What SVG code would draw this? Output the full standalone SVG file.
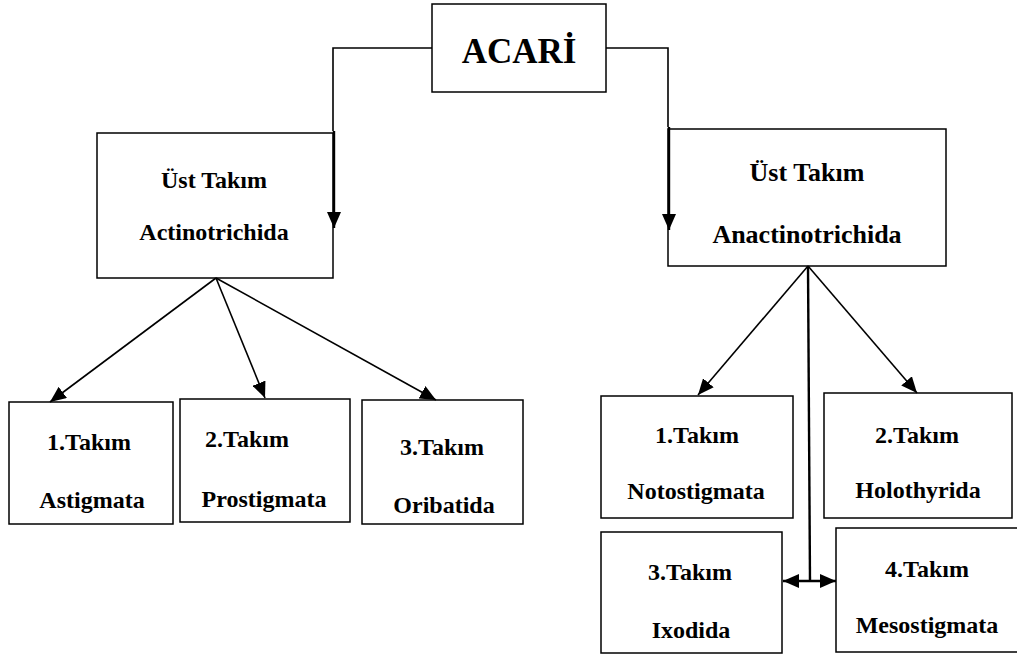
<svg xmlns="http://www.w3.org/2000/svg" width="1017" height="657" viewBox="0 0 1017 657">
<style>
.box{fill:#fff;stroke:#000;stroke-width:1.5}
.t{font-family:"Liberation Serif","Times New Roman",serif;font-weight:bold;font-size:24px;fill:#000;text-anchor:middle}
.ln{fill:none;stroke:#000;stroke-width:1.6}
.thick{fill:none;stroke:#000;stroke-width:2.4}
</style>
<defs>
<marker id="ah" markerUnits="userSpaceOnUse" markerWidth="16" markerHeight="14" refX="16" refY="7" orient="auto-start-reverse">
<path d="M0,0 L16,7 L0,14 z" fill="#000"/>
</marker>
</defs>
<rect width="1017" height="657" fill="#fff"/>
<g id="acari">
<rect class="box" x="432" y="4" width="174" height="88"/>
<text class="t" x="519" y="63" style="font-size:35px">ACARİ</text>
</g>
<g id="actinotrichida">
<rect class="box" x="97" y="133" width="236" height="145"/>
<text class="t" x="214" y="188">Üst Takım</text>
<text class="t" x="214" y="240">Actinotrichida</text>
</g>
<g id="anactinotrichida">
<rect class="box" x="668" y="129" width="278" height="137"/>
<text class="t" x="807" y="181" style="font-size:26px">Üst Takım</text>
<text class="t" x="807" y="243" style="font-size:26px">Anactinotrichida</text>
</g>
<g id="astigmata">
<rect class="box" x="9" y="402" width="164" height="122"/>
<text class="t" x="89" y="450">1.Takım</text>
<text class="t" x="92" y="508">Astigmata</text>
</g>
<g id="prostigmata">
<rect class="box" x="180" y="399" width="170" height="123"/>
<text class="t" x="247" y="447">2.Takım</text>
<text class="t" x="264" y="507">Prostigmata</text>
</g>
<g id="oribatida">
<rect class="box" x="362" y="400" width="161" height="124"/>
<text class="t" x="442" y="455">3.Takım</text>
<text class="t" x="444" y="513">Oribatida</text>
</g>
<g id="notostigmata">
<rect class="box" x="601" y="396" width="192" height="122"/>
<text class="t" x="697" y="443">1.Takım</text>
<text class="t" x="696" y="499">Notostigmata</text>
</g>
<g id="holothyrida">
<rect class="box" x="824" y="393" width="188" height="125"/>
<text class="t" x="917" y="443">2.Takım</text>
<text class="t" x="918" y="498">Holothyrida</text>
</g>
<g id="ixodida">
<rect class="box" x="601" y="532" width="181" height="121"/>
<text class="t" x="690" y="580">3.Takım</text>
<text class="t" x="691" y="638">Ixodida</text>
</g>
<g id="mesostigmata">
<rect class="box" x="836" y="528" width="190" height="124"/>
<text class="t" x="927" y="577">4.Takım</text>
<text class="t" x="927" y="633">Mesostigmata</text>
</g>
<g id="connectors">
<polyline class="ln" points="432,48 333,48 333,131"/>
<line class="thick" x1="334" y1="131" x2="334" y2="228" marker-end="url(#ah)"/>
<polyline class="ln" points="606,48 668,48 668,127"/>
<line class="thick" x1="669" y1="127" x2="669" y2="230" marker-end="url(#ah)"/>
<line class="ln" x1="216" y1="278" x2="50" y2="402" marker-end="url(#ah)"/>
<line class="ln" x1="216" y1="278" x2="265" y2="398" marker-end="url(#ah)"/>
<line class="ln" x1="216" y1="278" x2="436" y2="400" marker-end="url(#ah)"/>
<line class="ln" x1="808" y1="266" x2="698" y2="395" marker-end="url(#ah)"/>
<line class="ln" x1="808" y1="266" x2="917" y2="393" marker-end="url(#ah)"/>
<line class="thick" x1="808" y1="266" x2="810" y2="581"/>
<line class="thick" x1="783" y1="581" x2="836" y2="581" marker-start="url(#ah)" marker-end="url(#ah)"/>
</g>
</svg>
